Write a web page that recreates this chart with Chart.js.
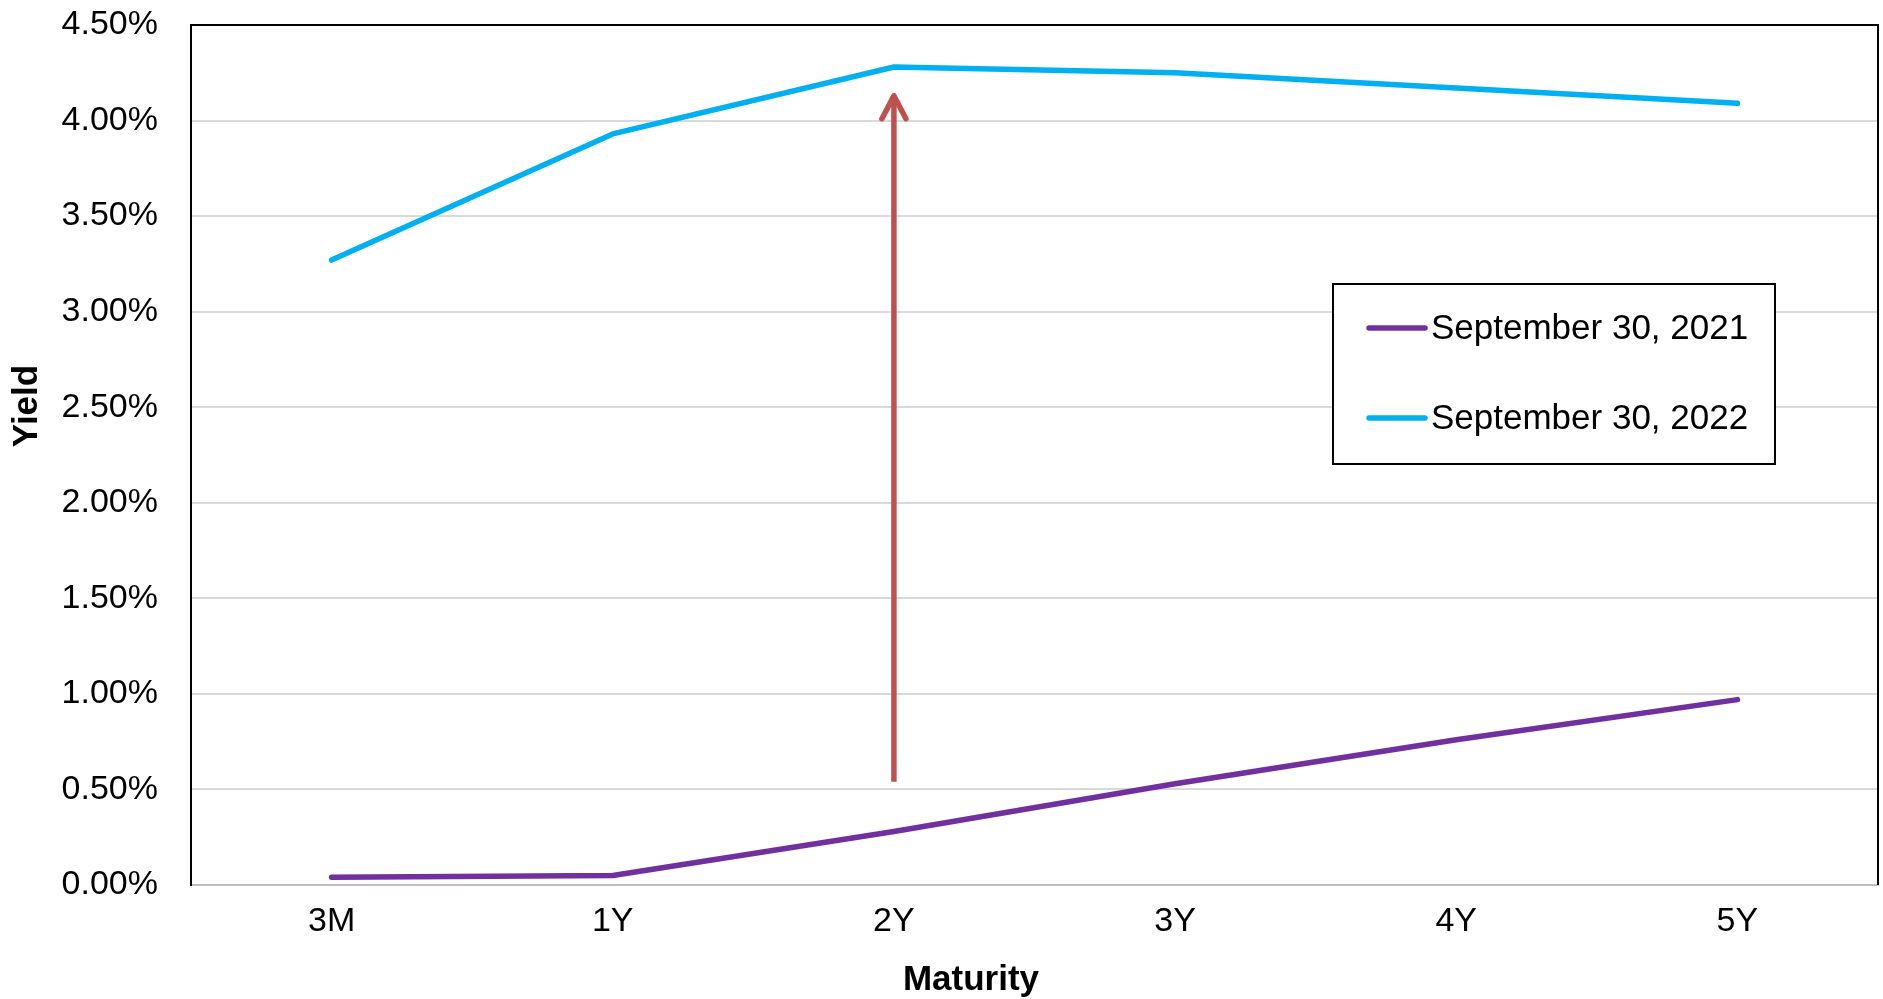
<!DOCTYPE html>
<html>
<head>
<meta charset="utf-8">
<title>Treasury Yield Curve</title>
<script src="https://cdn.jsdelivr.net/npm/chart.js@4.4.1/dist/chart.umd.min.js"></script>
<style>
  html, body { margin: 0; padding: 0; background: #ffffff; }
  #wrap { width: 1883px; height: 999px; }
</style>
</head>
<body>
<div id="wrap"><canvas id="curve" width="1883" height="999"></canvas></div>
<script>
// Maturities along the curve
const maturities = ['3M', '1Y', '2Y', '3Y', '4Y', '5Y'];

// Yields in percent
const yields2021 = [0.04, 0.05, 0.28, 0.53, 0.76, 0.97];
const yields2022 = [3.27, 3.93, 4.28, 4.25, 4.17, 4.09];

const seriesLabels = ['September 30, 2021', 'September 30, 2022'];

// Vertical arrow marking the rise at the 2-year point (percent)
const arrowMaturity = '2Y';
const arrowFrom = [0.54];
const arrowTo = [4.13];

// Y-axis range and step (percent)
const yMin = 0, yMax = 4.5, yStep = 0.5;

const FONT = '"Liberation Sans", Arial, Helvetica, sans-serif';

// Frame lines on the top and right of the plot area, arrow, axis titles and legend
const decorations = {
  id: 'decorations',
  afterDatasetsDraw(chart) {
    const ctx = chart.ctx;
    const xs = chart.scales.x;
    const ys = chart.scales.y;

    // Arrow
    const ax = xs.getPixelForValue(maturities.indexOf(arrowMaturity));
    const y0 = ys.getPixelForValue(arrowFrom[0]);
    const y1 = ys.getPixelForValue(arrowTo[0]);
    ctx.save();
    ctx.strokeStyle = '#C0504D';
    ctx.lineWidth = 5.5;
    ctx.lineCap = 'butt';
    ctx.beginPath();
    ctx.moveTo(ax, y0);
    ctx.lineTo(ax, y1 + 2);
    ctx.stroke();
    ctx.lineCap = 'round';
    ctx.lineJoin = 'round';
    ctx.beginPath();
    ctx.moveTo(ax - 12, y1 + 23);
    ctx.lineTo(ax, y1);
    ctx.lineTo(ax + 12, y1 + 23);
    ctx.stroke();
    ctx.restore();
  },
  afterDraw(chart) {
    const ctx = chart.ctx;
    const area = chart.chartArea;

    ctx.save();
    // top and right frame
    ctx.strokeStyle = '#000000';
    ctx.lineWidth = 2;
    ctx.beginPath();
    ctx.moveTo(area.left, area.top);
    ctx.lineTo(area.right, area.top);
    ctx.lineTo(area.right, area.bottom);
    ctx.stroke();

    // axis titles
    ctx.fillStyle = '#000000';
    ctx.font = 'bold 35px ' + FONT;
    ctx.textAlign = 'center';
    ctx.textBaseline = 'middle';
    ctx.fillText('Maturity', 971, 980);
    ctx.save();
    ctx.translate(27, 406);
    ctx.rotate(-Math.PI / 2);
    ctx.fillText('Yield', 0, 0);
    ctx.restore();

    // legend box
    const bx = 1333, by = 284, bw = 442, bh = 180;
    ctx.fillStyle = '#ffffff';
    ctx.fillRect(bx, by, bw, bh);
    ctx.strokeStyle = '#000000';
    ctx.lineWidth = 2;
    ctx.strokeRect(bx, by, bw, bh);

    const rows = [328, 418];
    chart.data.datasets.forEach((ds, i) => {
      const ry = rows[i];
      ctx.strokeStyle = ds.borderColor;
      ctx.lineWidth = 5.5;
      ctx.lineCap = 'round';
      ctx.beginPath();
      ctx.moveTo(1369, ry);
      ctx.lineTo(1425, ry);
      ctx.stroke();
      ctx.fillStyle = '#000000';
      ctx.font = '35px ' + FONT;
      ctx.textAlign = 'left';
      ctx.textBaseline = 'middle';
      ctx.fillText(ds.label, 1431, ry + 1);
    });
    ctx.restore();
  }
};

new Chart(document.getElementById('curve'), {
  type: 'line',
  data: {
    labels: maturities,
    datasets: [
      {
        label: seriesLabels[0],
        data: yields2021,
        borderColor: '#7030A0',
        backgroundColor: '#7030A0',
        borderWidth: 5.5,
        borderCapStyle: 'round',
        borderJoinStyle: 'round',
        pointRadius: 0,
        tension: 0,
        fill: false
      },
      {
        label: seriesLabels[1],
        data: yields2022,
        borderColor: '#00B0F0',
        backgroundColor: '#00B0F0',
        borderWidth: 5.5,
        borderCapStyle: 'round',
        borderJoinStyle: 'round',
        pointRadius: 0,
        tension: 0,
        fill: false
      }
    ]
  },
  options: {
    responsive: false,
    animation: false,
    devicePixelRatio: 1,
    layout: { padding: { top: 25, right: 5, left: 0, bottom: 0 } },
    plugins: {
      legend: { display: false },
      tooltip: { enabled: false },
      title: { display: false }
    },
    scales: {
      x: {
        offset: true,
        grid: { display: false, drawTicks: false },
        border: { display: true, color: '#BFBFBF', width: 2 },
        ticks: {
          color: '#000000',
          font: { family: FONT, size: 34 },
          padding: 16,
          maxRotation: 0
        },
        afterFit(scale) {
          scale.height = 114;
          scale.paddingLeft = 0;
          scale.paddingRight = 0;
        }
      },
      y: {
        min: yMin,
        max: yMax,
        grid: { color: '#D9D9D9', lineWidth: 2, drawTicks: false },
        border: { display: true, color: '#000000', width: 2 },
        ticks: {
          stepSize: yStep,
          color: '#000000',
          font: { family: FONT, size: 34 },
          padding: 33,
          callback: v => v.toFixed(2) + '%'
        },
        afterFit(scale) {
          scale.width = 191;
          scale.paddingTop = 0;
          scale.paddingBottom = 0;
        }
      }
    }
  },
  plugins: [decorations]
});
</script>
</body>
</html>
